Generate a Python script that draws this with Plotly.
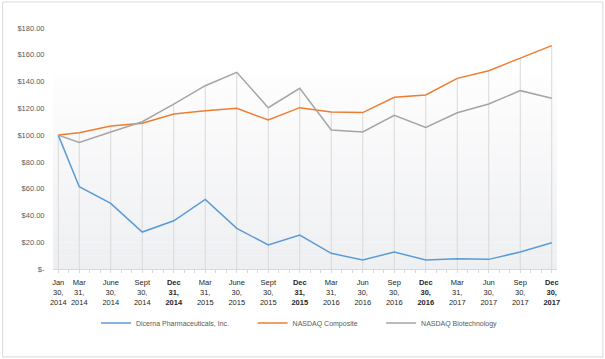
import plotly.graph_objects as go

# ---- data ----
dates = ["2014-01-30", "2014-03-31", "2014-06-30", "2014-09-30", "2014-12-31",
         "2015-03-31", "2015-06-30", "2015-09-30", "2015-12-31",
         "2016-03-31", "2016-06-30", "2016-09-30", "2016-12-30",
         "2017-03-31", "2017-06-30", "2017-09-30", "2017-12-30"]
tick_labels = ["Jan<br>30,<br>2014", "Mar<br>31,<br>2014", "June<br>30,<br>2014", "Sept<br>30,<br>2014",
               "<b>Dec<br>31,<br>2014</b>", "Mar<br>31,<br>2015", "June<br>30,<br>2015", "Sept<br>30,<br>2015",
               "<b>Dec<br>31,<br>2015</b>", "Mar<br>31,<br>2016", "Jun<br>30,<br>2016", "Sep<br>30,<br>2016",
               "<b>Dec<br>30,<br>2016</b>", "Mar<br>31,<br>2017", "Jun<br>30,<br>2017", "Sep<br>30,<br>2017",
               "<b>Dec<br>30,<br>2017</b>"]
dicerna = [100, 61.5, 49, 27.6, 36, 52, 30.4, 17.9, 25.4, 11.7, 6.7, 12.7, 6.7, 7.7, 7.2, 12.7, 19.6]
nasdaq_comp = [100, 101.8, 106.8, 108.8, 115.8, 118.2, 120, 111.3, 120.5, 117.3, 116.8, 128.2, 130,
               142.4, 148.1, 157.3, 166.8]
nasdaq_bio = [100, 94.6, 102.3, 110, 123.2, 136.9, 146.9, 120.5, 135, 103.8, 102.3, 114.8, 105.8,
              116.7, 123.2, 133.2, 127.5]
series_names = ["Dicerna Pharmaceuticals, Inc.", "NASDAQ Composite", "NASDAQ Biotechnology"]
y_ticks = [0, 20, 40, 60, 80, 100, 120, 140, 160, 180]
y_tick_labels = ["$-" if v == 0 else f"${v:.2f}" for v in y_ticks]

# month-based date axis (each point centred in its month slot)
def month_pos(d):
    y, m, _ = d.split("-")
    return (int(y) - 2014) * 12 + int(m) - 1 + 0.5

xs = [month_pos(d) for d in dates]

colors = ["#5b9bd5", "#ed7d31", "#a5a5a5"]
FONT = "Liberation Sans, Arial, sans-serif"

fig = go.Figure()

# drop lines from highest series value down to the axis
dx, dy = [], []
for i, x in enumerate(xs):
    top = max(dicerna[i], nasdaq_comp[i], nasdaq_bio[i])
    dx += [x, x, None]
    dy += [0, top, None]
fig.add_trace(go.Scatter(x=dx, y=dy, mode="lines", line=dict(color="#d9d9d9", width=1),
                         hoverinfo="skip", showlegend=False))

for vals, name, col, lg in zip([dicerna, nasdaq_comp, nasdaq_bio], series_names, colors,
                               ["legend", "legend2", "legend3"]):
    fig.add_trace(go.Scatter(x=xs, y=vals, mode="lines", name=name,
                             line=dict(color=col, width=1.5), legend=lg))

# gradient plot-area panel
shapes = []
n = 30
top_frac = 0.826
c0 = (254, 254, 254)
c1 = (238, 239, 242)
for k in range(n):
    t = k / (n - 1)
    c = tuple(round(c0[j] + (c1[j] - c0[j]) * t) for j in range(3))
    y1 = top_frac - top_frac * k / n
    y0 = top_frac - top_frac * (k + 1) / n
    shapes.append(dict(type="rect", xref="paper", yref="paper", x0=0, x1=1, y0=y0, y1=y1,
                       fillcolor=f"rgb{c}", line=dict(width=0), layer="below"))
# outer border
shapes.append(dict(type="rect", xref="paper", yref="paper", x0=-0.1, x1=1.091, y0=-0.365, y1=1.108,
                   line=dict(color="#d9d9d9", width=1), fillcolor="rgba(0,0,0,0)", layer="below"))

legend_common = dict(orientation="h", yanchor="middle", xanchor="left", bgcolor="rgba(0,0,0,0)",
                     font=dict(family=FONT, size=7, color="#595959"), y=-0.224)

fig.update_layout(
    width=605, height=359,
    margin=dict(l=53, r=48, t=28, b=90),
    paper_bgcolor="white", plot_bgcolor="rgba(0,0,0,0)",
    shapes=shapes,
    font=dict(family=FONT, size=7, color="#595959"),
    xaxis=dict(range=[0, 48], tickvals=xs, ticktext=tick_labels, showgrid=False,
               showline=True, linecolor="#d9d9d9", linewidth=1,
               ticks="outside", ticklen=3, tickcolor="#d9d9d9",
               minor=dict(tick0=0.5, dtick=1, ticks="outside", ticklen=3, tickcolor="#d9d9d9"),
               tickfont=dict(family=FONT, size=7.5, color="#262626"), zeroline=False,
               ticklabelstandoff=3),
    yaxis=dict(range=[0, 180], tickvals=y_ticks, ticktext=y_tick_labels, showgrid=False,
               showline=False, zeroline=False, ticks="outside", ticklen=6, tickcolor="rgba(0,0,0,0)",
               tickfont=dict(family=FONT, size=7.5, color="#595959")),
    legend=dict(x=0.0853, **legend_common),
    legend2=dict(x=0.396, **legend_common),
    legend3=dict(x=0.651, **legend_common),
)

fig.write_html("out.html", config={"displayModeBar": False},
               post_script="document.body.style.margin='0px';")
